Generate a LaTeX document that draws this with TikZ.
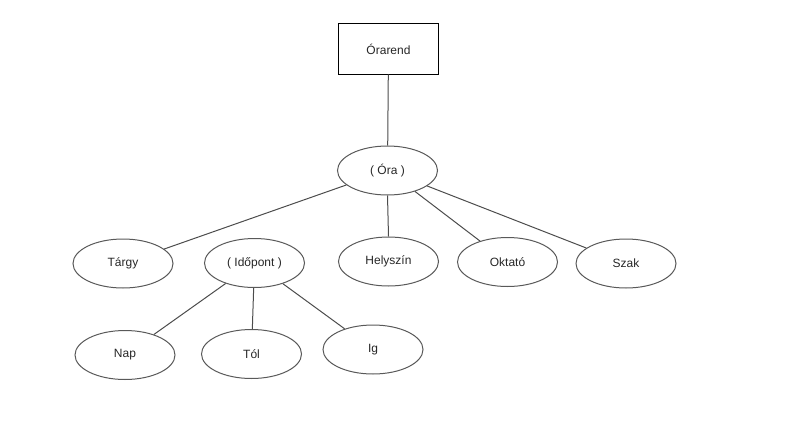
\documentclass[tikz,border=0pt]{standalone}
\usepackage{fontspec}
\setmainfont{Liberation Sans}
\usetikzlibrary{shapes.geometric}
\begin{document}
\begin{tikzpicture}[x=1pt,y=-1pt,
  every node/.style={font=\fontsize{12}{14}\selectfont, text=black!85},
  entity/.style={draw=black, line width=1pt, minimum width=100pt, minimum height=50pt, inner sep=0pt},
  attr/.style={ellipse, draw=black!65, line width=1pt, minimum width=100pt, minimum height=49pt, inner sep=0pt},
  link/.style={draw=black!70, line width=1pt}]
\useasboundingbox (0,0) rectangle (794,428);
% entity
\node[entity] (orarend) at (388.5,49) {Órarend};
% attributes
\node[attr] (ora) at (387.5,170.5) {( Óra )};
\node[attr] (targy) at (123,263.5) {Tárgy};
\node[attr] (idopont) at (254.5,263) {( Időpont )};
\node[attr] (helyszin) at (388.5,261.5) {Helyszín};
\node[attr] (oktato) at (507.5,262) {Oktató};
\node[attr] (szak) at (626,263.5) {Szak};
\node[attr] (nap) at (125,355) {Nap};
\node[attr] (tol) at (251.5,354) {Tól};
\node[attr] (ig) at (373,349.5) {Ig};
% connectors
\draw[link] (orarend) -- (ora);
\draw[link] (ora) -- (targy);
\draw[link] (ora.south) -- (helyszin.north);
\draw[link] (ora) -- (oktato);
\draw[link] (ora) -- (szak);
\draw[link] (idopont) -- (nap);
\draw[link] (idopont) -- (tol);
\draw[link] (idopont) -- (ig);
\end{tikzpicture}
\end{document}
